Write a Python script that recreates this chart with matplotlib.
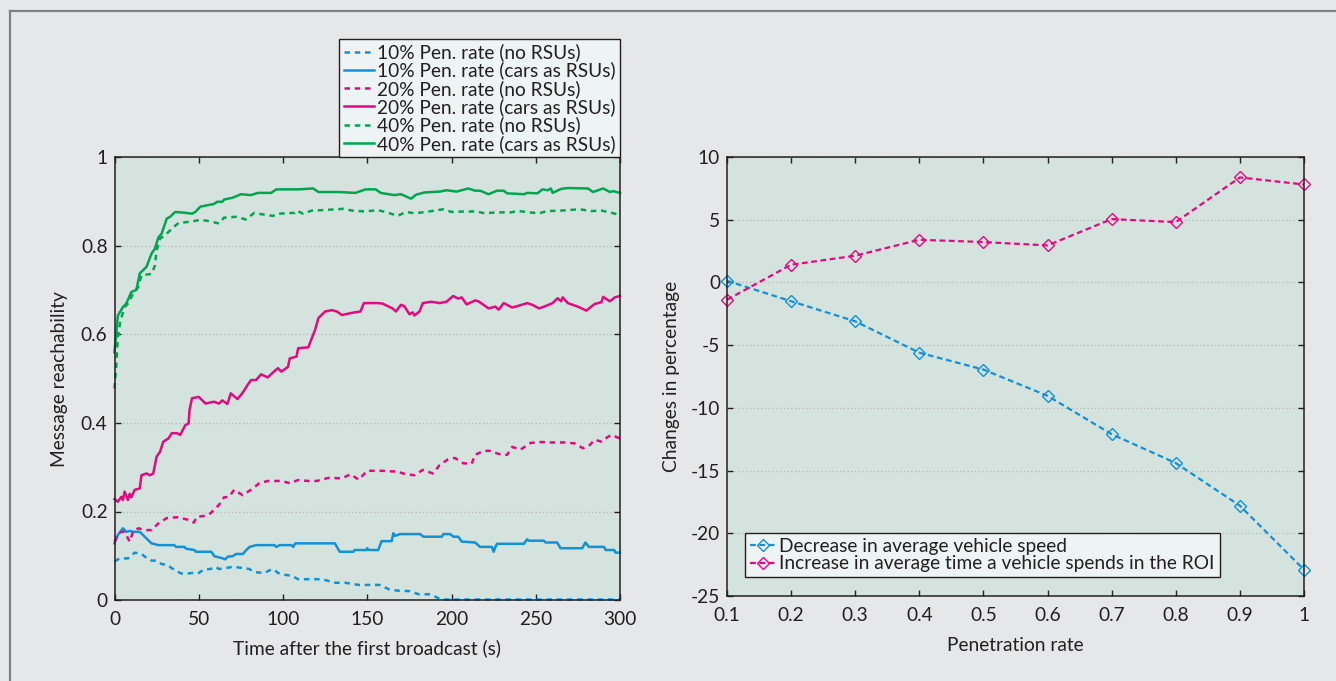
import matplotlib
matplotlib.use("Agg")
import matplotlib.pyplot as plt
from matplotlib.lines import Line2D
import numpy as np

plt.rcParams['font.family'] = ['Lato', 'DejaVu Sans']
plt.rcParams['axes.unicode_minus'] = False

# ---------------- data: left chart (time s, reachability) ----------------
green_cars = [(0, 0.56), (2, 0.643), (5, 0.662), (7, 0.670), (10, 0.696), (13, 0.701), (15, 0.738),
              (19, 0.753), (22, 0.783), (24, 0.794), (26, 0.819), (28, 0.828), (31, 0.862), (33, 0.866),
              (36, 0.877), (42, 0.875), (46, 0.873), (48, 0.877), (51, 0.889), (59, 0.895), (61, 0.900),
              (64, 0.900), (65, 0.905), (70, 0.909), (75, 0.917), (81, 0.915), (85, 0.920), (93, 0.920),
              (96, 0.928), (109, 0.928), (118, 0.930), (121, 0.922), (133, 0.922), (143, 0.920),
              (149, 0.928), (155, 0.928), (158, 0.920), (166, 0.915), (170, 0.917), (176, 0.907),
              (179, 0.916), (184, 0.921), (193, 0.923), (197, 0.926), (203, 0.923), (210, 0.930),
              (214, 0.925), (217, 0.925), (222, 0.917), (227, 0.925), (231, 0.925), (233, 0.919),
              (243, 0.917), (245, 0.920), (251, 0.919), (254, 0.928), (257, 0.926), (259, 0.930),
              (260, 0.920), (265, 0.929), (269, 0.931), (281, 0.930), (284, 0.922), (290, 0.930),
              (294, 0.922), (296, 0.924), (300, 0.920)]
green_none = [(0, 0.478), (1, 0.527), (2, 0.595), (3.4, 0.629), (6, 0.662), (8, 0.670), (11, 0.692),
              (14, 0.707), (16, 0.734), (22, 0.737), (24, 0.756), (25, 0.790), (27, 0.817), (30, 0.824),
              (34, 0.839), (38, 0.852), (45, 0.855), (51, 0.859), (55, 0.857), (62, 0.851), (65, 0.864),
              (72, 0.866), (78, 0.860), (83, 0.875), (87, 0.872), (94, 0.868), (97, 0.873), (107, 0.875),
              (108, 0.880), (112, 0.873), (117, 0.880), (123, 0.881), (136, 0.884), (141, 0.880),
              (149, 0.878), (156, 0.881), (161, 0.877), (168, 0.868), (173, 0.877), (178, 0.874),
              (185, 0.877), (195, 0.883), (200, 0.877), (208, 0.878), (214, 0.878), (220, 0.874),
              (227, 0.876), (235, 0.876), (240, 0.879), (246, 0.876), (252, 0.874), (257, 0.879),
              (265, 0.880), (276, 0.883), (283, 0.879), (289, 0.880), (294, 0.876), (300, 0.870)]
magenta_cars = [(0, 0.228), (2, 0.222), (4, 0.233), (5, 0.226), (6, 0.245), (8, 0.226), (9, 0.240),
                (10, 0.232), (12, 0.249), (15, 0.252), (16, 0.282), (19, 0.286), (21, 0.282), (23, 0.286),
                (25, 0.324), (27, 0.335), (29, 0.358), (32, 0.365), (34, 0.377), (37, 0.377), (39, 0.373),
                (42, 0.395), (44, 0.399), (44.5, 0.429), (46, 0.456), (50, 0.459), (54, 0.444), (59, 0.448),
                (62, 0.444), (64, 0.451), (67, 0.443), (69, 0.467), (73, 0.454), (76, 0.468), (79, 0.486),
                (81, 0.497), (84, 0.497), (87, 0.510), (91, 0.503), (94, 0.514), (97, 0.524), (99, 0.516),
                (103, 0.527), (104, 0.546), (108, 0.550), (109, 0.569), (115, 0.571), (119, 0.610),
                (121, 0.637), (125, 0.652), (129, 0.655), (132, 0.652), (135, 0.644), (141, 0.649),
                (146, 0.652), (148, 0.671), (156, 0.671), (159, 0.670), (165, 0.659), (167, 0.652),
                (170, 0.667), (172, 0.664), (175, 0.646), (177, 0.650), (178, 0.643), (181, 0.652),
                (183, 0.671), (188, 0.674), (193, 0.671), (197, 0.674), (201, 0.687), (204, 0.681),
                (206, 0.684), (209, 0.668), (214, 0.677), (216, 0.675), (222, 0.659), (226, 0.663),
                (228, 0.656), (231, 0.671), (236, 0.661), (239, 0.664), (245, 0.671), (248, 0.667),
                (252, 0.659), (255, 0.663), (260, 0.671), (263, 0.682), (265, 0.675), (266, 0.684),
                (269, 0.671), (275, 0.663), (280, 0.654), (285, 0.669), (289, 0.673), (290, 0.685),
                (294, 0.675), (297, 0.684), (300, 0.687)]
magenta_none = [(0, 0.132), (2, 0.147), (4, 0.154), (6, 0.154), (9, 0.132), (11, 0.154), (14, 0.162),
                (19, 0.158), (22, 0.158), (26, 0.173), (31, 0.185), (37, 0.187), (43, 0.182), (47, 0.175),
                (49, 0.188), (53, 0.190), (57, 0.196), (62, 0.215), (65, 0.232), (68, 0.233), (71, 0.249),
                (76, 0.237), (81, 0.249), (86, 0.264), (91, 0.269), (99, 0.269), (104, 0.264), (109, 0.271),
                (115, 0.269), (120, 0.269), (127, 0.276), (135, 0.275), (140, 0.284), (145, 0.272),
                (150, 0.292), (159, 0.292), (168, 0.290), (173, 0.284), (178, 0.282), (183, 0.294),
                (189, 0.286), (193, 0.305), (198, 0.318), (202, 0.321), (207, 0.309), (212, 0.308),
                (214, 0.328), (219, 0.337), (223, 0.337), (228, 0.330), (233, 0.328), (236, 0.346),
                (241, 0.340), (247, 0.355), (253, 0.357), (259, 0.356), (267, 0.356), (273, 0.354),
                (278, 0.343), (282, 0.350), (285, 0.362), (289, 0.358), (293, 0.369), (295, 0.373),
                (300, 0.365)]
blue_cars = [(0, 0.128), (2, 0.147), (5, 0.162), (7, 0.154), (9, 0.156), (12, 0.154), (15, 0.154),
             (19, 0.139), (22, 0.128), (26, 0.124), (35.5, 0.124), (36.5, 0.120), (41.5, 0.120),
             (42.5, 0.116), (47.4, 0.113), (48.4, 0.109), (57.4, 0.109), (59.3, 0.099), (64.3, 0.094),
             (65.7, 0.092), (67.3, 0.098), (70.2, 0.099), (72.2, 0.104), (76.2, 0.104), (78.2, 0.113),
             (80.2, 0.120), (84.1, 0.124), (95, 0.124), (96, 0.120), (98, 0.124), (105, 0.124),
             (106, 0.120), (107.3, 0.128), (130.8, 0.128), (133.7, 0.109), (141.7, 0.109), (142.6, 0.113),
             (149.6, 0.113), (150, 0.117), (151, 0.113), (156.5, 0.113), (158.5, 0.133), (164.5, 0.133),
             (165.5, 0.151), (166.5, 0.145), (169.5, 0.149), (181.4, 0.149), (183.3, 0.143),
             (194.2, 0.143), (195.2, 0.149), (199.2, 0.149), (201.2, 0.143), (204, 0.143), (206.1, 0.132),
             (214, 0.130), (217, 0.120), (224, 0.120), (225, 0.109), (226, 0.119), (227, 0.127),
             (242.9, 0.127), (244.9, 0.137), (245.8, 0.134), (254.8, 0.134), (255.8, 0.130),
             (262.7, 0.130), (264.7, 0.117), (277.6, 0.117), (279.5, 0.130), (281.5, 0.120),
             (290.5, 0.120), (291.5, 0.113), (296.5, 0.113), (297.4, 0.107), (300, 0.107)]
blue_none = [(0, 0.087), (3, 0.094), (8, 0.094), (12, 0.107), (16, 0.104), (18, 0.098), (22, 0.089),
             (25, 0.089), (28, 0.081), (31, 0.080), (35.5, 0.068), (39.5, 0.060), (43.5, 0.060),
             (46, 0.061), (50, 0.061), (53, 0.069), (57, 0.070), (60, 0.075), (62, 0.070), (66, 0.072),
             (70, 0.075), (77, 0.072), (80, 0.070), (83, 0.063), (89, 0.061), (93, 0.069), (95, 0.068),
             (97, 0.061), (101, 0.057), (105, 0.055), (109, 0.047), (117, 0.047), (123, 0.047),
             (131, 0.039), (137, 0.039), (145, 0.034), (157.5, 0.034), (163.5, 0.023), (168.5, 0.021),
             (175.4, 0.020), (180.4, 0.013), (187.3, 0.013), (192.3, 0.004), (195.2, 0.001), (300, 0.001)]

left_labels = ['10% Pen. rate (no RSUs)', '10% Pen. rate (cars as RSUs)',
               '20% Pen. rate (no RSUs)', '20% Pen. rate (cars as RSUs)',
               '40% Pen. rate (no RSUs)', '40% Pen. rate (cars as RSUs)']
left_xticks = [0, 50, 100, 150, 200, 250, 300]
left_yticks = [0, 0.2, 0.4, 0.6, 0.8, 1]
left_yticklabels = ['0', '0.2', '0.4', '0.6', '0.8', '1']

# ---------------- data: right chart ----------------
pen_rate = [0.1, 0.2, 0.3, 0.4, 0.5, 0.6, 0.7, 0.8, 0.9, 1.0]
speed_decrease = [0.13, -1.5, -3.1, -5.6, -6.95, -9.04, -12.1, -14.4, -17.8, -22.9]
time_increase = [-1.38, 1.41, 2.13, 3.40, 3.22, 2.95, 5.05, 4.81, 8.37, 7.81]
right_labels = ['Decrease in average vehicle speed',
                'Increase in average time a vehicle spends in the ROI']
right_xticks = [0.1, 0.2, 0.3, 0.4, 0.5, 0.6, 0.7, 0.8, 0.9, 1.0]
right_xticklabels = ['0.1', '0.2', '0.3', '0.4', '0.5', '0.6', '0.7', '0.8', '0.9', '1']
right_yticks = [-25, -20, -15, -10, -5, 0, 5, 10]

# ---------------- styling ----------------
BLUE = '#1192d6'
MAGENTA = '#e4097e'
GREEN = '#00a550'
FIG_BG = '#e6e7e8'
AX_BG = '#d5e3de'
LEG_BG = '#eef3f3'
INK = '#231f20'
FS = 13.8

fig = plt.figure(figsize=(13.36, 6.81), dpi=100, facecolor=FIG_BG)

# outer frame (top and left edges)
fig.add_artist(Line2D([9.5 / 1336, 1.0], [1 - 10.5 / 681, 1 - 10.5 / 681],
                      transform=fig.transFigure, color='#808080', lw=1.6))
fig.add_artist(Line2D([9.5 / 1336, 9.5 / 1336], [0, 1 - 10.5 / 681],
                      transform=fig.transFigure, color='#808080', lw=1.6))


def style_axes(ax):
    ax.set_facecolor(AX_BG)
    for s in ax.spines.values():
        s.set_color(INK)
        s.set_linewidth(1.1)
    ax.tick_params(direction='in', length=4, width=1, colors=INK, labelsize=FS,
                   top=True, right=True, labelcolor=INK)
    ax.tick_params(axis='x', pad=8)
    ax.tick_params(axis='y', pad=5)
    ax.yaxis.grid(True, linestyle=(0, (1, 2)), color='#b5b9b8', lw=0.9)
    ax.set_axisbelow(True)


# ---------------- left chart ----------------
axL = fig.add_axes([114.5 / 1336, 1 - 600 / 681, (620 - 114.5) / 1336, (600 - 157.5) / 681])
style_axes(axL)
dash = (0, (2.2, 1.9))
series = [(blue_none, BLUE, dash), (blue_cars, BLUE, '-'),
          (magenta_none, MAGENTA, dash), (magenta_cars, MAGENTA, '-'),
          (green_none, GREEN, dash), (green_cars, GREEN, '-')]
handles = []
for (data, col, ls), lab in zip(series, left_labels):
    t, v = zip(*data)
    h, = axL.plot(t, v, color=col, ls=ls, lw=1.8, label=lab, clip_on=False)
    handles.append(h)
axL.set_xlim(0, 300)
axL.set_ylim(0, 1)
axL.set_xticks(left_xticks)
axL.set_yticks(left_yticks)
axL.set_yticklabels(left_yticklabels)
axL.set_xlabel('Time after the first broadcast (s)', fontsize=FS, color=INK, labelpad=8)
axL.set_ylabel('Message reachability', fontsize=FS, color=INK, labelpad=9)
legL = axL.legend(handles=handles, loc='lower right', bbox_to_anchor=(1.0, 1.0),
                  borderaxespad=0, fontsize=FS, frameon=True, fancybox=False,
                  facecolor=LEG_BG, edgecolor=INK, framealpha=1,
                  handlelength=1.55, handletextpad=0.15, labelspacing=0.02,
                  borderpad=0.25)
legL.get_frame().set_linewidth(1.0)
for txt in legL.get_texts():
    txt.set_color(INK)

# ---------------- right chart ----------------
axR = fig.add_axes([727 / 1336, 1 - 596 / 681, (1304 - 727) / 1336, (596 - 157) / 681])
style_axes(axR)
rdash = (0, (2.6, 1.6))
h1, = axR.plot(pen_rate, speed_decrease, color=BLUE, ls=rdash, lw=1.6, marker='D',
               markersize=6, markerfacecolor='none', markeredgewidth=1.0,
               label=right_labels[0], clip_on=False)
h2, = axR.plot(pen_rate, time_increase, color=MAGENTA, ls=rdash, lw=1.6, marker='D',
               markersize=6, markerfacecolor='none', markeredgewidth=1.0,
               label=right_labels[1], clip_on=False)
axR.set_xlim(0.1, 1.0)
axR.set_ylim(-25, 10)
axR.set_xticks(right_xticks)
axR.set_xticklabels(right_xticklabels)
axR.set_yticks(right_yticks)
axR.set_xlabel('Penetration rate', fontsize=FS, color=INK, labelpad=9)
axR.set_ylabel('Changes in percentage', fontsize=FS, color=INK, labelpad=8)
legR = axR.legend(handles=[h1, h2], loc='lower left', bbox_to_anchor=(0.031, 0.043),
                  borderaxespad=0, fontsize=FS, frameon=True, fancybox=False,
                  facecolor=LEG_BG, edgecolor=INK, framealpha=1,
                  handlelength=1.4, handletextpad=0.15, labelspacing=0.02,
                  borderpad=0.25)
legR.get_frame().set_linewidth(1.0)
for txt in legR.get_texts():
    txt.set_color(INK)

fig.savefig('out.png', dpi=100, facecolor=FIG_BG)
